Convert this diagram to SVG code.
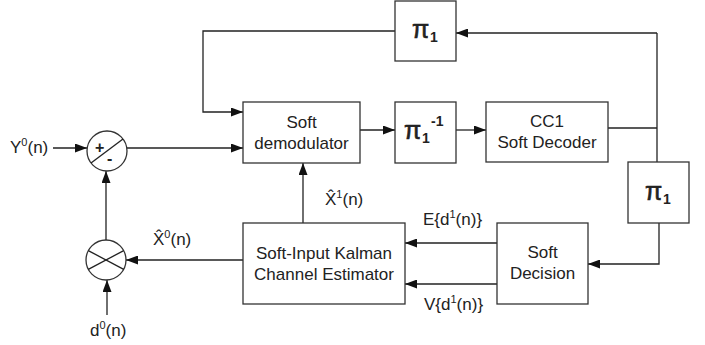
<svg xmlns="http://www.w3.org/2000/svg" width="705" height="345" viewBox="0 0 705 345">
<style>
.box{fill:#fff;stroke:#333;stroke-width:1.3}
.ln{fill:none;stroke:#222;stroke-width:1.3}
.arr{marker-end:url(#ah)}
text{font-family:"Liberation Sans",Arial,sans-serif;font-size:17px;fill:#222}
.c{text-anchor:middle}
.pi{font-size:25px;stroke:#222;stroke-width:0.6}
.sub{font-weight:bold;font-size:14px}
.sup{font-size:11px}
</style>
<defs>
<marker id="ah" markerUnits="userSpaceOnUse" markerWidth="12" markerHeight="9" refX="12" refY="4.5" orient="auto">
<path d="M0,0 L12,4.5 L0,9 z" fill="#111"/>
</marker>
</defs>
<rect width="705" height="345" fill="#fff"/>
<g id="connectors">
<path class="ln arr" d="M53,148 H87"/>
<path class="ln arr" d="M127,148 H243"/>
<path class="ln" d="M608,128 H657"/>
<path class="ln" d="M657,162 V33"/>
<path class="ln arr" d="M657,33 H456"/>
<path class="ln arr" d="M395,31 H203 V112 H243"/>
<path class="ln arr" d="M360,130 H395"/>
<path class="ln arr" d="M456,130 H486"/>
<path class="ln arr" d="M659,223 V264 H588"/>
<path class="ln arr" d="M497,243 H405"/>
<path class="ln arr" d="M497,284 H405"/>
<path class="ln arr" d="M303,223 V163"/>
<path class="ln arr" d="M243,260 H126"/>
<path class="ln arr" d="M107,315 V280"/>
<path class="ln arr" d="M106,240 V171"/>
</g>
<g id="pi-top">
<rect class="box" x="395" y="1" width="61" height="60"/>
<text x="412" y="38" class="pi">π</text><text x="430" y="42" class="sub">1</text>
</g>
<g id="demod">
<rect class="box" x="243" y="102" width="117" height="61"/>
<text class="c" x="301.5" y="128">Soft</text>
<text class="c" x="301.5" y="149">demodulator</text>
</g>
<g id="pi-inv">
<rect class="box" x="395" y="102" width="61" height="61"/>
<text x="404" y="139" class="pi">π</text><text x="422" y="143" class="sub">1</text><text x="431" y="126" class="sub">-1</text>
</g>
<g id="decoder">
<rect class="box" x="486" y="102" width="122" height="60"/>
<text class="c" x="547" y="127">CC1</text>
<text class="c" x="547" y="148">Soft Decoder</text>
</g>
<g id="pi-right">
<rect class="box" x="628" y="162" width="61" height="61"/>
<text x="645" y="200" class="pi">π</text><text x="663" y="204" class="sub">1</text>
</g>
<g id="decision">
<rect class="box" x="497" y="223" width="91" height="81"/>
<text class="c" x="542.5" y="258">Soft</text>
<text class="c" x="542.5" y="279">Decision</text>
</g>
<g id="kalman">
<rect class="box" x="243" y="223" width="162" height="81"/>
<text class="c" x="324" y="259">Soft-Input Kalman</text>
<text class="c" x="324" y="280">Channel Estimator</text>
</g>
<g id="subtractor">
<circle class="box" cx="107" cy="151" r="20"/>
<line class="ln" x1="91" y1="163" x2="123" y2="139"/>
<text x="95" y="153" style="font-size:16px;font-weight:bold">+</text>
<text x="107" y="164" style="font-size:16px;font-weight:bold">-</text>
</g>
<g id="multiplier">
<circle class="box" cx="106" cy="260" r="20"/>
<line class="ln" x1="88.3" y1="250.6" x2="123.7" y2="269.4"/>
<line class="ln" x1="88.3" y1="269.4" x2="123.7" y2="250.6"/>
</g>
<g id="labels">
<text x="10" y="153">Y<tspan class="sup" dy="-7">0</tspan><tspan dy="7">(n)</tspan></text>
<text x="153" y="245">X&#x302;<tspan class="sup" dy="-7">0</tspan><tspan dy="7">(n)</tspan></text>
<text x="325" y="205">X&#x302;<tspan class="sup" dy="-7">1</tspan><tspan dy="7">(n)</tspan></text>
<text x="423" y="225">E{d<tspan class="sup" dy="-7">1</tspan><tspan dy="7">(n)}</tspan></text>
<text x="424" y="310">V{d<tspan class="sup" dy="-7">1</tspan><tspan dy="7">(n)}</tspan></text>
<text x="90" y="336">d<tspan class="sup" dy="-7">0</tspan><tspan dy="7">(n)</tspan></text>
</g>
</svg>
